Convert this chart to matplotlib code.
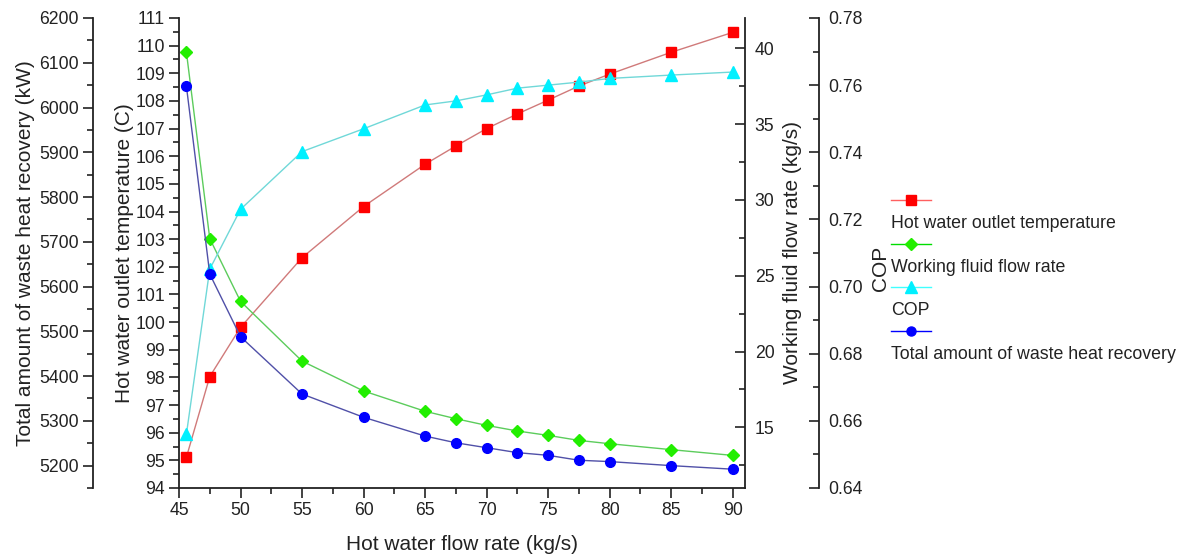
import matplotlib
matplotlib.use('Agg')
import matplotlib.pyplot as plt
from matplotlib.ticker import MultipleLocator, FormatStrFormatter
from matplotlib.lines import Line2D

plt.rcParams['font.family'] = ['Liberation Sans', 'DejaVu Sans']

# data
flow = [45.6, 47.5, 50, 55, 60, 65, 67.5, 70, 72.5, 75, 77.5, 80, 85, 90]
outlet_temp = [95.11, 98.03, 99.81, 102.33, 104.18, 105.71, 106.37, 107.0,
               107.53, 108.03, 108.54, 108.97, 109.76, 110.48]
wf_flow = [39.76, 27.45, 23.31, 19.37, 17.4, 16.06, 15.57, 15.13,
           14.76, 14.47, 14.14, 13.92, 13.53, 13.15]
cop = [0.656, 0.7052, 0.723, 0.7402, 0.747, 0.7541, 0.7553, 0.7571,
       0.7591, 0.760, 0.7609, 0.762, 0.763, 0.7639]
heat = [6048, 5628, 5488, 5360, 5308, 5266, 5251, 5240, 5229, 5223,
        5212, 5209, 5200, 5192]

labels = ['Hot water outlet temperature', 'Working fluid flow rate', 'COP',
          'Total amount of waste heat recovery']

txt = '#222222'
W, H = 1189, 554

fig = plt.figure(figsize=(W / 100, H / 100), dpi=100)
ax = fig.add_axes([179 / W, 66 / H, 566 / W, 470 / H])
ax2 = ax.twinx()   # working fluid
ax3 = ax.twinx()   # COP
ax4 = ax.twinx()   # waste heat

for a in (ax, ax2, ax3, ax4):
    for s in a.spines.values():
        s.set_visible(False)
        s.set_linewidth(1.3)
        s.set_color(txt)
    a.patch.set_visible(False)

ax.spines['left'].set_visible(True)
ax.spines['bottom'].set_visible(True)
ax2.spines['right'].set_visible(True)
ax3.spines['right'].set_visible(True)
ax3.spines['right'].set_position(('outward', 74 * 0.72))
ax4.spines['left'].set_visible(True)
ax4.spines['left'].set_position(('outward', 86 * 0.72))
ax4.yaxis.tick_left()
ax4.yaxis.set_label_position('left')

ax.plot(flow, outlet_temp, color='#d07a7a', lw=1, marker='s', ms=6.5,
        mfc='#ff0000', mec='#ff0000')
ax2.plot(flow, wf_flow, color='#5ccc5c', lw=1, marker='D', ms=6.5,
         mfc='#22ee00', mec='#22ee00')
ax3.plot(flow, cop, color='#70d8d8', lw=1, marker='^', ms=8,
         mfc='#00f0ff', mec='#00f0ff')
ax4.plot(flow, heat, color='#5050a8', lw=1, marker='o', ms=7,
         mfc='#0000ff', mec='#0000ff')

ax.set_xlim(45, 91)
ax.set_ylim(94, 111)
ax2.set_ylim(11, 42)
ax3.set_ylim(0.64, 0.78)
ax4.set_ylim(5150, 6200)

ax.xaxis.set_major_locator(MultipleLocator(5))
ax.xaxis.set_minor_locator(MultipleLocator(2.5))
ax.yaxis.set_major_locator(MultipleLocator(1))
ax.yaxis.set_minor_locator(MultipleLocator(0.5))
ax2.yaxis.set_major_locator(MultipleLocator(5))
ax2.yaxis.set_minor_locator(MultipleLocator(2.5))
ax3.yaxis.set_major_locator(MultipleLocator(0.02))
ax3.yaxis.set_minor_locator(MultipleLocator(0.01))
ax3.yaxis.set_major_formatter(FormatStrFormatter('%.2f'))
ax4.yaxis.set_major_locator(MultipleLocator(100))
ax4.yaxis.set_minor_locator(MultipleLocator(50))

for a, d, p in ((ax, 'out', 3), (ax4, 'out', 3), (ax2, 'in', 7), (ax3, 'in', 6.5)):
    a.tick_params(which='major', length=7, width=1.2, direction=d, pad=p,
                  labelsize=12.7, color=txt, labelcolor=txt)
    a.tick_params(which='minor', length=4, width=1.2, direction=d, color=txt)

ax.set_xlabel('Hot water flow rate (kg/s)', fontsize=15, color=txt)
ax.set_ylabel('Hot water outlet temperature (C)', fontsize=15, color=txt)
ax2.set_ylabel('Working fluid flow rate (kg/s)', fontsize=15, color=txt)
ax3.set_ylabel('COP', fontsize=15, color=txt)
ax4.set_ylabel('Total amount of waste heat recovery (kW)', fontsize=15, color=txt)
ax.xaxis.set_label_coords(0.5, -0.099)
ax.yaxis.set_label_coords(-0.0797, 0.5)
ax4.yaxis.set_label_coords(-0.2544, 0.5)
ax2.yaxis.set_label_coords(1.068, 0.5)
ax3.yaxis.set_label_coords(1.222, 0.468)

# Origin-style legend: symbol row, then text row
styles = [('#ff6060', 's', '#ff0000', 6.5), ('#00dd00', 'D', '#22ee00', 6.5),
          ('#40ffff', '^', '#00f0ff', 8), ('#0000ff', 'o', '#0000ff', 6.5)]
handles, names = [], []
for (lc, m, mc, ms), lab in zip(styles, labels):
    handles.append(Line2D([], [], color=lc, lw=1, marker=m, ms=ms, mfc=mc, mec=mc))
    names.append(' ')
    handles.append(Line2D([], [], linestyle='none'))
    names.append(lab)
fig.legend(handles, names, loc='upper left', bbox_to_anchor=(891 / W, 1 - 193 / H),
           frameon=False, fontsize=12.8, handlelength=2.25, handletextpad=-2.25,
           labelspacing=0.275, borderpad=0, borderaxespad=0, labelcolor=txt)

fig.savefig('out.png', dpi=100)
